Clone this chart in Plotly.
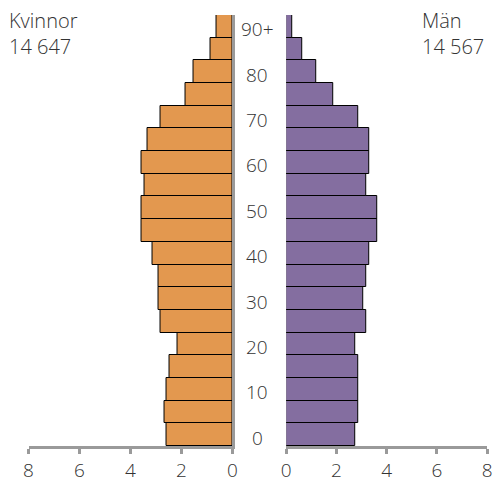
import plotly.graph_objects as go
from plotly.subplots import make_subplots

ORANGE = "#E3984F"
PURPLE = "#846EA0"
GREY = "#9a9a9a"
TEXT = "#333333"
FONT = "Open Sans"

age_groups = ["0-4", "5-9", "10-14", "15-19", "20-24", "25-29", "30-34", "35-39", "40-44",
              "45-49", "50-54", "55-59", "60-64", "65-69", "70-74", "75-79", "80-84", "85-89", "90+"]
women = [2.58, 2.68, 2.58, 2.47, 2.15, 2.80, 2.91, 2.91, 3.13, 3.57,
         3.57, 3.45, 3.57, 3.33, 2.80, 1.83, 1.51, 0.85, 0.64]
men = [2.74, 2.85, 2.85, 2.85, 2.73, 3.17, 3.06, 3.17, 3.29, 3.61,
       3.63, 3.17, 3.29, 3.29, 2.85, 1.87, 1.21, 0.65, 0.22]
age_labels = ["0", "10", "20", "30", "40", "50", "60", "70", "80", "90+"]
age_label_groups = ["0-4", "10-14", "20-24", "30-34", "40-44", "50-54", "60-64", "70-74", "80-84", "90+"]
x_ticks = [0, 2, 4, 6, 8]

fig = make_subplots(rows=1, cols=2, shared_yaxes=False, horizontal_spacing=0.05)
fig.add_trace(go.Bar(y=age_groups, x=women, orientation="h", marker=dict(color=ORANGE, line=dict(color="black", width=1)),
                     name="Kvinnor", showlegend=False, hoverinfo="x+y"), row=1, col=1)
fig.add_trace(go.Bar(y=age_groups, x=men, orientation="h", marker=dict(color=PURPLE, line=dict(color="black", width=1)),
                     name="Män", showlegend=False, hoverinfo="x+y"), row=1, col=2)

axis_common = dict(tickvals=x_ticks, showgrid=False, zeroline=False, showline=True, linecolor=GREY, linewidth=2.5,
                   ticks="outside", ticklen=5, tickwidth=2.5, tickcolor=GREY,
                   tickfont=dict(size=19, color=TEXT, family=FONT, weight=300))
fig.update_xaxes(range=[8, 0], domain=[24 / 497, 232 / 497], **axis_common, row=1, col=1)
fig.update_xaxes(range=[0, 8], domain=[287 / 497, 492 / 497], **axis_common, row=1, col=2)
fig.update_yaxes(categoryorder="array", categoryarray=age_groups, range=[-0.5, 18.5], showticklabels=False,
                 showgrid=False, zeroline=False, ticks="")
fig.update_yaxes(side="right", showline=True, linecolor=GREY, linewidth=2.5, row=1, col=1)

for lab, grp in zip(age_labels, age_label_groups):
    fig.add_annotation(x=257.5 / 497, xref="paper", y=grp, yref="y2", text=lab, showarrow=False,
                       xanchor="center", yshift=-3, font=dict(size=19, color=TEXT, family=FONT, weight=300))

fig.add_annotation(x=2 / 497, y=1.0, xref="paper", yref="paper", text="Kvinnor<br>14 647", showarrow=False,
                   xanchor="left", yanchor="top", align="left", yshift=10,
                   font=dict(size=20, color=TEXT, family=FONT, weight=300))
fig.add_annotation(x=424 / 497, y=1.0, xref="paper", yref="paper", text="Män<br>14 567", showarrow=False,
                   xanchor="left", yanchor="top", align="left", yshift=10,
                   font=dict(size=20, color=TEXT, family=FONT, weight=300))

fig.update_layout(
    width=497, height=483,
    margin=dict(t=15, b=35, l=0, r=0),
    bargap=0,
    plot_bgcolor="white",
    paper_bgcolor="white",
)
fig.write_html("out.html", config={"displayModeBar": False}, post_script="document.body.style.margin='0';")
